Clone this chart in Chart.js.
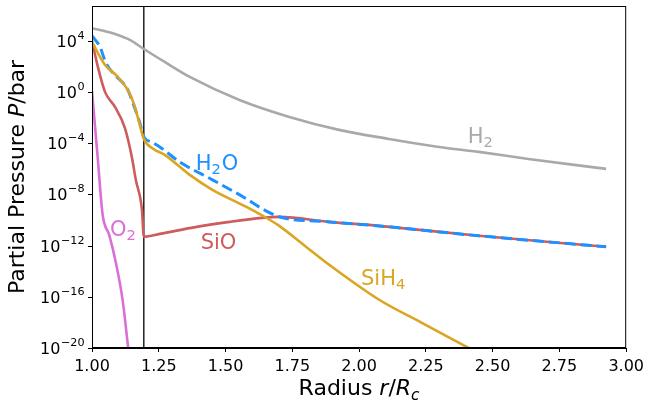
<!DOCTYPE html>
<html>
<head>
<meta charset="utf-8">
<script src="https://cdn.jsdelivr.net/npm/chart.js@4.4.1/dist/chart.umd.min.js"></script>
<style>
html,body{margin:0;padding:0;background:#fff;}
#wrap{width:649px;height:405px;position:relative;}
</style>
</head>
<body>
<div id="wrap"><canvas id="c" width="649" height="405"></canvas></div>
<script>
// ---- data ----
const xTicks = [1.00, 1.25, 1.50, 1.75, 2.00, 2.25, 2.50, 2.75, 3.00];
const yTickExps = [4, 0, -4, -8, -12, -16, -20];
const yTicks = [1e4, 1e0, 1e-4, 1e-8, 1e-12, 1e-16, 1e-20];
const coreRadius = 1.194;

const r_H2 = [1.00, 1.078, 1.142, 1.194, 1.272, 1.366, 1.552, 1.739, 1.925, 2.112, 2.299, 2.448, 2.634, 2.925];
const P_H2 = [1.0e5, 4.0e4, 1.2e4, 2.34e3, 2.3e2, 1.55e1, 2.45e-1, 1.15e-2, 1.12e-3, 2.2e-4, 5.2e-5, 2.14e-5, 6.0e-6, 1.0e-6];

const r_H2O = [1.00, 1.03, 1.052, 1.093, 1.116, 1.134, 1.153, 1.179, 1.194, 1.224, 1.254, 1.328, 1.451, 1.578, 1.638, 1.701, 1.888, 2.075, 2.448, 2.925];
const P_H2O = [2.45e4, 3.4e3, 1.9e2, 1.55e1, 5.2e0, 1.5e0, 1.45e-1, 3.9e-3, 3.2e-4, 1.26e-4, 5.2e-5, 3.5e-6, 1.4e-7, 4.6e-9, 7.5e-10, 1.8e-10, 7.2e-11, 3.5e-11, 5.9e-12, 8.1e-13];

const r_SiO = [1.00, 1.022, 1.049, 1.086, 1.123, 1.149, 1.164, 1.187, 1.194, 1.254, 1.392, 1.515, 1.638, 1.701, 1.888, 2.075, 2.448, 2.925];
const P_SiO = [1.0e4, 9.3e1, 1.0e0, 7.0e-2, 1.6e-3, 8.7e-6, 1.4e-7, 6.3e-10, 5.0e-12, 8.3e-12, 2.95e-11, 7.2e-11, 1.48e-10, 1.78e-10, 7.2e-11, 3.5e-11, 5.9e-12, 8.1e-13];

const r_SiH4 = [1.00, 1.049, 1.093, 1.134, 1.157, 1.179, 1.194, 1.23, 1.272, 1.366, 1.451, 1.578, 1.653, 1.701, 1.802, 1.888, 2.075, 2.235, 2.41, 2.597];
const P_SiH4 = [8.3e3, 1.33e2, 1.86e1, 1.5e0, 1.2e-1, 2.75e-3, 2.2e-4, 3.6e-5, 1.26e-5, 3.4e-7, 2.3e-8, 1.07e-9, 1.48e-10, 3.5e-11, 7.9e-13, 3.2e-14, 5.9e-17, 9.3e-19, 1.0e-20, 7.9e-23];

const r_O2 = [1.00, 1.02, 1.04, 1.065, 1.09, 1.115, 1.135, 1.15];
const P_O2 = [1.26e0, 1.6e-5, 2.5e-10, 6.3e-12, 4.0e-14, 5.0e-17, 1.26e-20, 3.2e-23];

// species labels: [text, subscript?] parts, anchor radius, anchor pressure (baseline)
const labelNames = [
  [['H',0],['2',1]],
  [['H',0],['2',1],['O',0]],
  [['O',0],['2',1]],
  [['SiO',0]],
  [['SiH',0],['4',1]]
];
const labelR = [2.407, 1.388, 1.067, 1.407, 2.007];
const labelP = [1.07e-4, 8.3e-7, 5.9e-12, 5.6e-13, 8.7e-16];

// ---- styles ----
const C_H2 = '#a9a9a9', C_H2O = '#1e90ff', C_SiO = '#cd5c5c', C_SiH4 = '#daa520', C_O2 = '#da70d6';
const labelColors = [C_H2, C_H2O, C_O2, C_SiO, C_SiH4];
const FONT = '"DejaVu Sans", "Liberation Sans", sans-serif';

function pts(r, p){ return r.map((x,i)=>({x:x, y:p[i]})); }
function line(label, r, p, color, order, extra){
  return Object.assign({
    label: label, data: pts(r,p), borderColor: color, backgroundColor: color,
    borderWidth: 2.6, pointRadius: 0, fill: false, order: order,
    cubicInterpolationMode: 'monotone'
  }, extra||{});
}

const framePlugin = {
  id: 'frame',
  afterDraw(chart){
    const ctx = chart.ctx, a = chart.chartArea;
    const ys = chart.scales.y, xs = chart.scales.x;
    ctx.save();
    ctx.strokeStyle = '#000'; ctx.lineWidth = 1;
    ctx.strokeRect(a.left+0.5, a.top+0.5, a.right-a.left-1, a.bottom-a.top-1);
    ctx.fillStyle = '#000';
    ctx.textBaseline = 'alphabetic';
    yTicks.forEach((v,i)=>{
      const y = ys.getPixelForValue(v);
      ctx.beginPath(); ctx.moveTo(a.left-4, Math.round(y)+0.5); ctx.lineTo(a.left, Math.round(y)+0.5); ctx.stroke();
      const e = yTickExps[i] < 0 ? '\u2212' + Math.abs(yTickExps[i]) : String(yTickExps[i]);
      ctx.font = '16px ' + FONT; const wb = ctx.measureText('10').width;
      ctx.font = '11.2px ' + FONT; const we = ctx.measureText(e).width;
      const right = a.left - 8;
      const x0 = right - wb - we;
      ctx.font = '16px ' + FONT; ctx.textAlign = 'left';
      ctx.fillText('10', x0, y + 6);
      ctx.font = '11.2px ' + FONT;
      ctx.fillText(e, x0 + wb + 0.5, y - 2);
    });
    function drawParts(parts, x, y, align){
      let w = 0;
      const f = p => (p[1]?'italic ':'') + (p[2]? '15.4px ':'22px ') + FONT;
      parts.forEach(p=>{ ctx.font = f(p); p.w = ctx.measureText(p[0]).width; w += p.w; });
      let cx = align==='center' ? x - w/2 : x;
      ctx.textAlign = 'left';
      parts.forEach(p=>{ ctx.font = f(p); ctx.fillText(p[0], cx, y + (p[2]?4.5:0)); cx += p.w; });
    }
    ctx.fillStyle = '#000';
    drawParts([['Radius ',0,0],['r',1,0],['/',0,0],['R',1,0],['c',1,1]], (a.left+a.right)/2, 395, 'center');
    ctx.save();
    ctx.translate(24, (a.top+a.bottom)/2);
    ctx.rotate(-Math.PI/2);
    drawParts([['Partial Pressure ',0,0],['P',1,0],['/bar',0,0]], 0, 0, 'center');
    ctx.restore();
    labelNames.forEach((parts,i)=>{
      let x = xs.getPixelForValue(labelR[i]);
      const y = ys.getPixelForValue(labelP[i]);
      ctx.fillStyle = labelColors[i];
      parts.forEach(p=>{
        ctx.font = (p[1]? '14.7px ':'21px ') + FONT;
        ctx.textAlign = 'left';
        ctx.fillText(p[0], x, y + (p[1]?4:0));
        x += ctx.measureText(p[0]).width + (p[1]?1:0);
      });
    });
    ctx.restore();
  }
};

new Chart(document.getElementById('c'), {
  type: 'line',
  data: {
    datasets: [
      line('SiH4', r_SiH4, P_SiH4, C_SiH4, 0),
      line('H2O', r_H2O, P_H2O, C_H2O, 1, {borderDash:[11,5], borderWidth:3}),
      line('SiO', r_SiO, P_SiO, C_SiO, 2),
      line('O2', r_O2, P_O2, C_O2, 3),
      line('H2', r_H2, P_H2, C_H2, 4),
      {label:'core', data:[{x:coreRadius,y:1e-30},{x:coreRadius,y:1e10}], borderColor:'#000', borderWidth:1.3, pointRadius:0, order:5, tension:0}
    ]
  },
  options: {
    responsive: false, animation: false, devicePixelRatio: 1,
    layout: { padding: { left: 0, right: 21, top: 6, bottom: 0 } },
    plugins: { legend: { display: false }, tooltip: { enabled: false } },
    scales: {
      x: {
        type: 'linear', min: 1.0, max: 3.0,
        afterBuildTicks(s){ s.ticks = xTicks.map(v=>({value:v})); },
        afterFit(s){ s.height = 57; },
        ticks: { callback: v => Number(v).toFixed(2), color:'#000', font:{family:FONT, size:16}, padding: 5, maxRotation:0, autoSkip:false },
        grid: { display: true, drawOnChartArea: false, drawTicks: true, tickLength: 4, color: '#000', tickWidth: 1 },
        border: { display: true, color: '#000', width: 1 }
      },
      y: {
        type: 'logarithmic', min: 1e-20, max: 5.4e6,
        afterFit(s){ s.width = 92; },
        ticks: { display: false },
        grid: { display: false },
        border: { display: true, color: '#000', width: 1 }
      }
    }
  },
  plugins: [framePlugin]
});
</script>
</body>
</html>
